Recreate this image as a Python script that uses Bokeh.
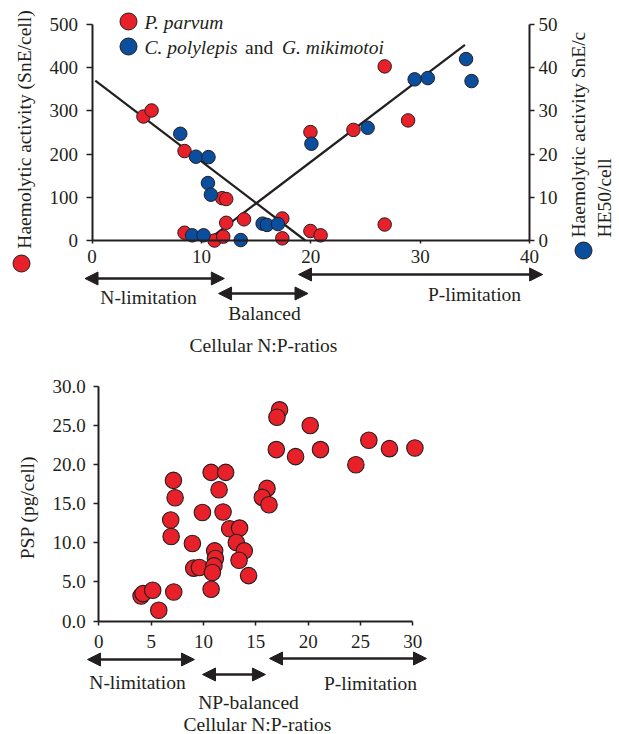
import math
from bokeh.plotting import figure
from bokeh.models import (Range1d, LinearAxis, Label, Arrow, NormalHead,
                          FixedTicker, PrintfTickFormatter, ColumnDataSource)
from bokeh.embed import file_html
from bokeh.resources import INLINE

# ---------------- data: top panel (haemolytic activity) ----------------
pp_ratio = [4.7, 5.45, 8.46, 8.46, 11.9, 12.27, 11.2, 12.0, 12.27, 13.9,
            17.4, 17.4, 19.97, 19.97, 20.9, 23.9, 26.76, 26.76, 28.9]
pp_haem = [287, 301, 207, 18, 98, 96, 0, 9, 41, 49,
           51, 5, 251, 22, 12, 256, 403, 37, 278]          # SnE/cell (left axis)

cg_ratio = [8.07, 9.5, 10.65, 10.6, 10.87, 9.16, 10.2, 13.6, 15.6, 16.0,
            17.0, 20.06, 25.2, 29.5, 30.7, 34.2, 34.7]
cg_haem = [24.7, 19.4, 19.3, 13.3, 10.6, 1.2, 1.2, 0.1, 3.9, 3.6,
           3.8, 22.4, 26.1, 37.3, 37.6, 42.0, 36.9]         # right axis

fit_down_x = [0.3, 19.5]
fit_down_y = [370, 0]
fit_up_x = [10.85, 34.1]
fit_up_y = [6, 453]

top_x_ticks = [0, 10, 20, 30, 40]
top_left_ticks = [0, 100, 200, 300, 400, 500]
top_right_ticks = [0, 10, 20, 30, 40, 50]

top_n_lim = [-0.64, 12.1]
top_balanced = [11.57, 19.75]
top_p_lim = [18.88, 41.2]

# ---------------- data: bottom panel (PSP) ----------------
psp_ratio = [4.04, 4.23, 5.15, 5.73, 7.16, 6.91, 6.87, 7.29, 7.13, 8.94,
             9.07, 9.61, 9.9, 10.73, 12.12, 11.49, 11.87, 12.5, 13.45, 13.14,
             13.9, 13.4, 14.31, 11.07, 11.14, 11.0, 10.85, 10.73, 16.07, 15.62,
             16.26, 17.27, 17.02, 16.96, 18.8, 20.2, 21.18, 24.56, 25.8, 27.77,
             30.2]
psp_val = [3.2, 3.5, 3.93, 1.37, 3.71, 10.8, 12.9, 15.75, 17.97, 9.9,
           6.75, 6.83, 13.87, 18.99, 18.99, 16.77, 13.92, 11.78, 11.87, 10.03,
           8.96, 7.77, 5.8, 8.96, 7.98, 7.04, 6.19, 4.05, 16.94, 15.79,
           14.85, 26.98, 26.03, 21.9, 21.0, 24.97, 21.9, 19.97, 23.09, 22.02,
           22.1]

bot_x_ticks = [0, 5, 10, 15, 20, 25, 30]
bot_y_ticks = [0, 5, 10, 15, 20, 25, 30]

bot_n_lim = [-1.08, 9.14]
bot_balanced = [9.91, 15.92]
bot_p_lim = [16.31, 31.31]

RED = "#E8202A"
BLUE = "#0C4E9E"
INK = "#231F20"
FONT = "Liberation Serif"
FS = "19.5px"
TICK_FS = "19px"

W, H = 619, 734


# -------- pixel layout of the two panels (page pixels) --------
class Mapper:
    """linear map between data values and page pixels for one panel"""
    def __init__(self, x0, px0, x1, px1, y0, py0, y1, py1):
        self.x0, self.px0 = x0, px0
        self.sx = (px1 - px0) / (x1 - x0)
        self.y0, self.py0 = y0, py0
        self.sy = (py0 - py1) / (y1 - y0)

    def x(self, px):
        return self.x0 + (px - self.px0) / self.sx

    def y(self, py):
        return self.y0 + (self.py0 - py) / self.sy

    def xrange(self):
        return Range1d(self.x(0), self.x(W))

    def yrange(self):
        return Range1d(self.y(H), self.y(0))


top = Mapper(0, 91.5, 40, 529, 0, 240, 500, 24)
top_r = Mapper(0, 91.5, 40, 529, 0, 240, 50, 24)
bot = Mapper(0, 98.3, 30, 412.3, 0, 620.5, 30, 385.7)

p = figure(width=W, height=H, x_range=top.xrange(), y_range=top.yrange(),
           x_axis_type=None, y_axis_type=None, min_border=0,
           output_backend="svg", toolbar_location=None)
p.extra_y_ranges = {"right": top_r.yrange(), "y2": bot.yrange()}
p.extra_x_ranges = {"x2": bot.xrange()}
p.outline_line_color = None
p.background_fill_color = "white"
p.border_fill_color = "white"


def style_axis(ax, ticks, tick_out, standoff):
    ax.ticker = FixedTicker(ticks=ticks)
    ax.axis_line_width = 2
    ax.axis_line_color = INK
    ax.major_tick_line_color = INK
    ax.major_tick_line_width = 1.5
    ax.major_tick_in = 0
    ax.major_tick_out = tick_out
    ax.minor_tick_line_color = None
    ax.major_label_text_font = FONT
    ax.major_label_text_font_size = TICK_FS
    ax.major_label_text_color = INK
    ax.major_label_standoff = standoff


# top panel axes
ax = LinearAxis(fixed_location=0, bounds=(0, 40))
style_axis(ax, top_x_ticks, 3, 6)
p.add_layout(ax, "below")
ax = LinearAxis(fixed_location=0, bounds=(0, 500))
style_axis(ax, top_left_ticks, 6, 8)
p.add_layout(ax, "left")
ax = LinearAxis(y_range_name="right", fixed_location=40, bounds=(0, 50))
style_axis(ax, top_right_ticks, 5, 4)
p.add_layout(ax, "right")

# bottom panel axes
ax = LinearAxis(x_range_name="x2", y_range_name="y2", fixed_location=0, bounds=(0, 30))
style_axis(ax, bot_x_ticks, 4, 10)
p.add_layout(ax, "below")
ax = LinearAxis(x_range_name="x2", y_range_name="y2", fixed_location=0, bounds=(0, 30))
style_axis(ax, bot_y_ticks, 5, 8)
ax.formatter = PrintfTickFormatter(format="%.1f")
p.add_layout(ax, "left")


def lab(m, px, py, text, xr="default", yr="default", **kw):
    opts = dict(text_font=FONT, text_font_size=FS, text_color=INK,
                text_align="center", text_baseline="middle")
    opts.update(kw)
    p.add_layout(Label(x=m.x(px), y=m.y(py), text=text,
                       x_range_name=xr, y_range_name=yr, **opts))


def darrow(m, xs, py, xr="default", yr="default"):
    y = m.y(py)
    p.add_layout(Arrow(x_start=xs[0], x_end=xs[1], y_start=y, y_end=y,
                       x_range_name=xr, y_range_name=yr,
                       line_width=2.5, line_color=INK,
                       start=NormalHead(size=13, fill_color=INK, line_color=INK, line_width=1),
                       end=NormalHead(size=13, fill_color=INK, line_color=INK, line_width=1)))


def dot(m, px, py, color, size):
    p.scatter([m.x(px)], [m.y(py)], size=size, fill_color=color,
              line_color=INK, line_width=1)


# ---------------- top panel marks ----------------
p.line(fit_down_x, fit_down_y, line_color=INK, line_width=2.2)
p.line(fit_up_x, fit_up_y, line_color=INK, line_width=2.2)

src_pp = ColumnDataSource(dict(x=pp_ratio, y=pp_haem))
src_cg = ColumnDataSource(dict(x=cg_ratio, y=cg_haem))
p.scatter("x", "y", source=src_pp, size=13.5, fill_color=RED, line_color=INK, line_width=1)
p.scatter("x", "y", source=src_cg, size=13.5, fill_color=BLUE, line_color=INK, line_width=1,
          y_range_name="right")

# legend (mixed italic text)
dot(top, 128, 21, RED, 17)
dot(top, 128, 46, BLUE, 17)
lab(top, 144, 21.5, "P. parvum", text_align="left", text_font_style="italic")
lab(top, 144, 47, "C. polylepis", text_align="left", text_font_style="italic")
lab(top, 244.5, 47, "and", text_align="left")
lab(top, 281.5, 47, "G. mikimotoi", text_align="left", text_font_style="italic")

# axis titles
lab(top, 24, 129, "Haemolytic activity (SnE/cell)", angle=math.pi / 2)
dot(top, 21, 263, RED, 17)
lab(top, 578, 237, "Haemolytic activity SnE/c", angle=math.pi / 2, text_align="left")
lab(top, 604, 237, "HE50/cell", angle=math.pi / 2, text_align="left")
dot(top, 583, 250, BLUE, 17)

# regimes
darrow(top, top_n_lim, 278)
darrow(top, top_p_lim, 274)
darrow(top, top_balanced, 293)
lab(top, 148, 297, "N-limitation")
lab(top, 474, 294, "P-limitation")
lab(top, 264, 313, "Balanced")
lab(top, 263, 345, "Cellular N:P-ratios")

# ---------------- bottom panel marks ----------------
src_psp = ColumnDataSource(dict(x=psp_ratio, y=psp_val))
p.scatter("x", "y", source=src_psp, size=16.5, fill_color=RED, line_color=INK,
          line_width=1.1, x_range_name="x2", y_range_name="y2")

lab(bot, 27, 507, "PSP (pg/cell)", xr="x2", yr="y2", angle=math.pi / 2)
darrow(bot, bot_n_lim, 659, xr="x2", yr="y2")
darrow(bot, bot_balanced, 674, xr="x2", yr="y2")
darrow(bot, bot_p_lim, 658, xr="x2", yr="y2")
lab(bot, 137, 682, "N-limitation", xr="x2", yr="y2")
lab(bot, 370, 683, "P-limitation", xr="x2", yr="y2")
lab(bot, 248, 702, "NP-balanced", xr="x2", yr="y2")
lab(bot, 257, 724, "Cellular N:P-ratios", xr="x2", yr="y2")

open("out.html", "w").write(file_html(p, INLINE))
